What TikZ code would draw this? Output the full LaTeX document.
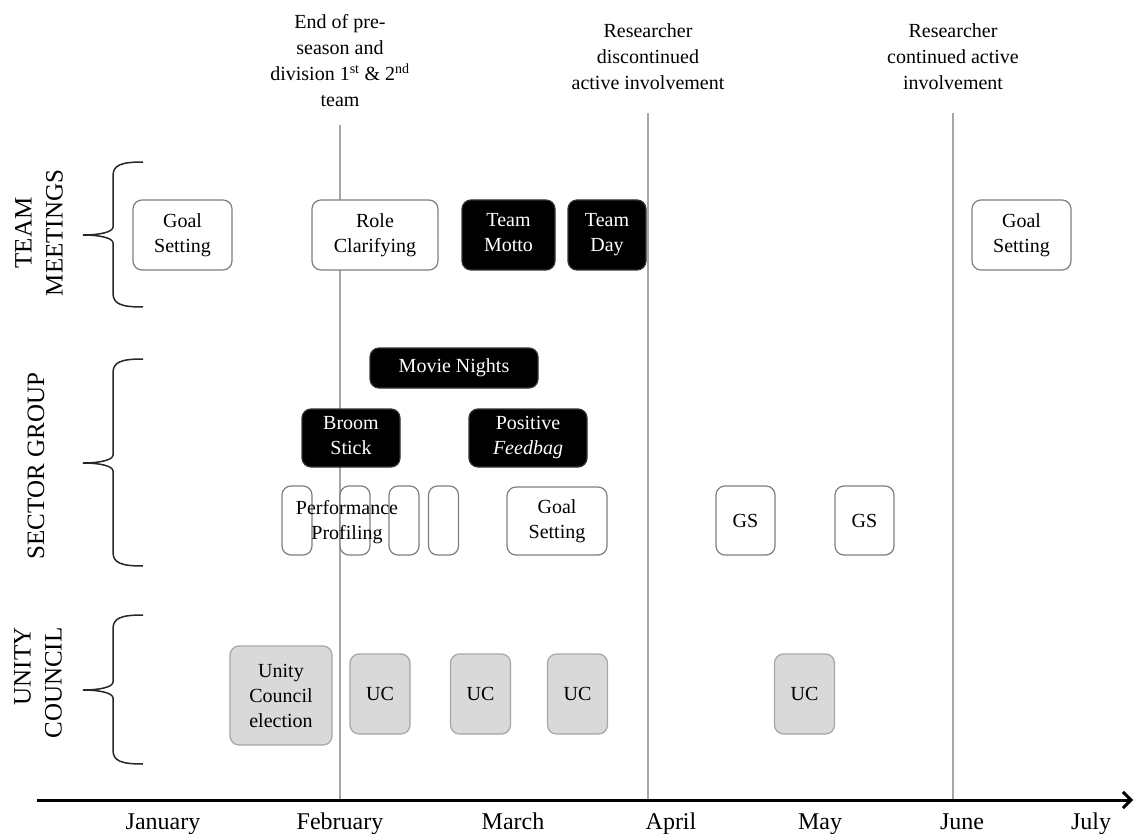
\documentclass[tikz,border=0pt]{standalone}
\usepackage{fontspec}
\setmainfont{Liberation Serif}
\usepackage{tikz}
\usetikzlibrary{arrows.meta,positioning}
\definecolor{edgegray}{HTML}{7F7F7F}
\definecolor{ucfill}{HTML}{D9D9D9}
\definecolor{gridgray}{HTML}{A6A6A6}
\tikzset{
  >={Straight Barb[length=8pt,width=16pt]},
  box/.style={draw=edgegray, line width=1.2pt, rounded corners=9pt, fill=white, align=center, inner sep=0pt, font=\fontsize{20}{25}\selectfont},
  darkbox/.style={box, fill=black, draw=black!80, text=white},
  ucbox/.style={box, fill=ucfill, draw=gridgray},
  slim/.style={box, minimum width=30pt, minimum height=69pt},
  note/.style={align=center, font=\fontsize{20}{26}\selectfont},
  month/.style={anchor=base, font=\fontsize{24}{28}\selectfont},
  side/.style={rotate=90, align=center, font=\fontsize{25}{31}\selectfont},
  mline/.style={gridgray, line width=1.2pt},
  axis/.style={->, line width=3pt},
  brace/.style={line width=1.5pt, black!85},
}
% brace: top, tip, bottom
\newcommand{\rowbrace}[3]{%
  \draw[brace] (143,#1) .. controls (121,#1) and (113,#1+3) .. (113,#1+14)
    -- (113,#2-8) .. controls (113,#2-3) and (100,#2) .. (83,#2)
    .. controls (100,#2) and (113,#2+3) .. (113,#2+8)
    -- (113,#3-14) .. controls (113,#3-3) and (121,#3) .. (143,#3);}

\begin{document}
\begin{tikzpicture}[x=1pt, y=-1pt]
    \useasboundingbox (0,0) rectangle (1135,834);

    % month lines and time axis
    \coordinate (axL) at (37,800);
    \coordinate (axR) at (1133,800);
    \coordinate (febTop) at (340,125);
    \coordinate (febBot) at (340,800);
    \coordinate (aprTop) at (648,113);
    \coordinate (aprBot) at (648,800);
    \coordinate (junTop) at (953,113);
    \coordinate (junBot) at (953,800);
    \draw[mline] (febTop) -- (febBot);
    \draw[mline] (aprTop) -- (aprBot);
    \draw[mline] (junTop) -- (junBot);
    \draw[axis] (axL) -- (axR);

    % months
    \node[month] (jan) at (163,829) {January};
    \node[month] (feb) at (340,829) {February};
    \node[month] (mar) at (513,829) {March};
    \node[month] (apr) at (671,829) {April};
    \node[month] (may) at (820,829) {May};
    \node[month] (jun) at (962,829) {June};
    \node[month] (jul) at (1091,829) {July};

    % notes on top
    \node[note] (noteFeb) at (340,61) {End of pre-\\season and\\division 1\textsuperscript{st} \& 2\textsuperscript{nd}\\team};
    \node[note] (noteApr) at (648,57) {Researcher\\discontinued\\active involvement};
    \node[note] (noteJun) at (953,57) {Researcher\\continued active\\involvement};

    % side labels and braces
    \node[side] (lblTeam) at (39,233) {TEAM\\MEETINGS};
    \node[side] (lblSector) at (36,466) {SECTOR GROUP};
    \node[side, align=right] (lblUnity) at (38,683) {UNITY\\COUNCIL};
    \rowbrace{162}{235}{307}
    \rowbrace{359}{463}{566}
    \rowbrace{615}{690}{764}

    % team meetings
    \node[box, minimum width=99pt, minimum height=70pt] (tmGoalA) at (182.5,235) {Goal\\Setting};
    \node[box, minimum width=126pt, minimum height=70pt] (tmRole) at (375,235) {Role\\Clarifying};
    \node[darkbox, minimum width=93pt, minimum height=70pt] (tmMotto) at (508.5,235) {Team\\Motto\vphantom{y}};
    \node[darkbox, minimum width=78pt, minimum height=70pt] (tmDay) at (607,235) {Team\\Day};
    \node[box, minimum width=99pt, minimum height=70pt] (tmGoalB) at (1021.5,235) {Goal\\Setting};

    % sector group
    \node[darkbox, minimum width=168pt, minimum height=40pt] (sgMovie) at (454,368) {Movie Nights};
    \node[darkbox, minimum width=98pt, minimum height=58pt] (sgBroom) at (351,438) {Broom\\Stick\vphantom{g}};
    \node[darkbox, minimum width=118pt, minimum height=58pt] (sgFeed) at (528,438) {Positive\\\textit{Feedbag}};
    \node[slim] (sgPerfA) at (297,520.5) {};
    \node[slim] (sgPerfB) at (355,520.5) {};
    \node[slim] (sgPerfC) at (404,520.5) {};
    \node[slim] (sgPerfD) at (443.5,520.5) {};
    \node[note, font=\fontsize{20}{25}\selectfont] (sgPerf) at (347,522) {Performance\\Profiling};
    \node[box, minimum width=100pt, minimum height=68pt] (sgGoal) at (557,521) {Goal\\Setting};
    \node[box, minimum width=59pt, minimum height=69pt] (sgGSA) at (745.5,520.5) {GS};
    \node[box, minimum width=59pt, minimum height=69pt] (sgGSB) at (864.5,520.5) {GS};

    % unity council
    \node[ucbox, minimum width=102pt, minimum height=99pt] (ucElect) at (281,695.5) {Unity\\Council\\election};
    \node[ucbox, minimum width=60pt, minimum height=80pt] (ucA) at (380,694) {UC};
    \node[ucbox, minimum width=60pt, minimum height=80pt] (ucB) at (480.5,694) {UC};
    \node[ucbox, minimum width=60pt, minimum height=80pt] (ucC) at (577.5,694) {UC};
    \node[ucbox, minimum width=60pt, minimum height=80pt] (ucD) at (804.5,694) {UC};
\end{tikzpicture}
\end{document}
